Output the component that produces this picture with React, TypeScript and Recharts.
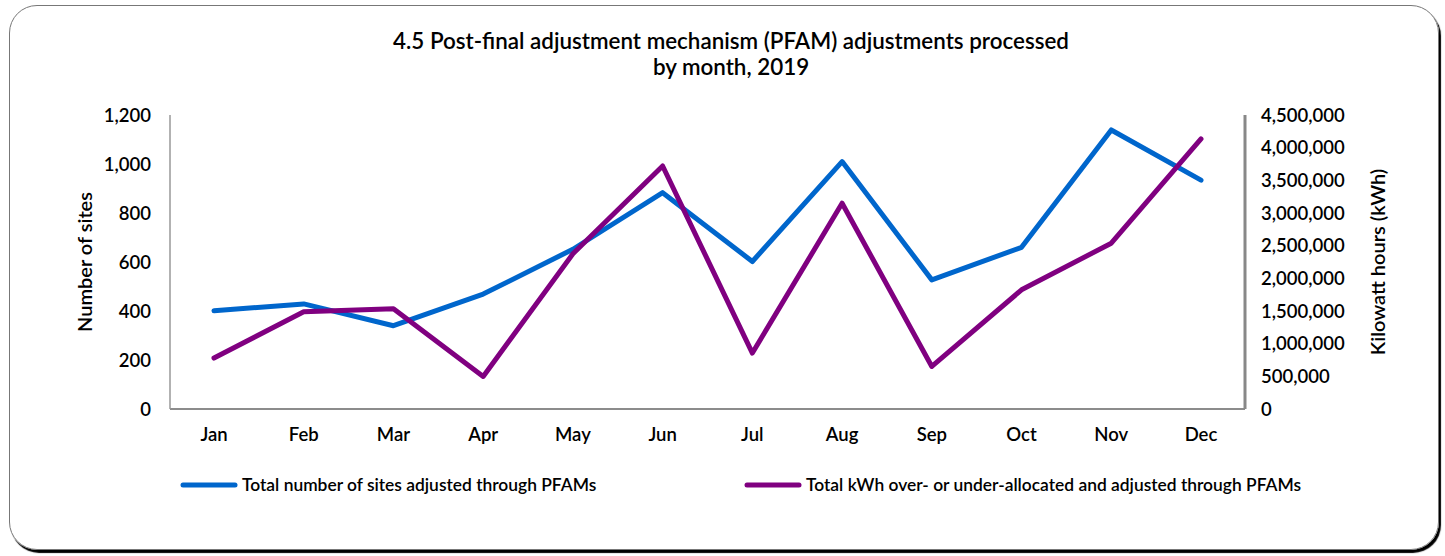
import { LineChart, Line, XAxis, YAxis, Legend } from 'recharts'

const months = ['Jan', 'Feb', 'Mar', 'Apr', 'May', 'Jun', 'Jul', 'Aug', 'Sep', 'Oct', 'Nov', 'Dec']
const sites = [401, 429, 340, 469, 652, 883, 602, 1010, 527, 660, 1139, 934]
const kwh = [780000, 1488000, 1534000, 498000, 2375000, 3720000, 856000, 3150000, 651000, 1824000, 2538000, 4133000]
const siteTicks = [0, 200, 400, 600, 800, 1000, 1200]
const kwhTicks = [0, 500000, 1000000, 1500000, 2000000, 2500000, 3000000, 3500000, 4000000, 4500000]

const SITES_LABEL = 'Total number of sites adjusted through PFAMs'
const KWH_LABEL = 'Total kWh over- or under-allocated and adjusted through PFAMs'

const BLUE = '#0066cc'
const PURPLE = '#800080'
const FONT = 'Lato, "Open Sans", sans-serif'

const data = months.map((m, i) => ({ month: m, sites: sites[i], kwh: kwh[i] }))

const fmt = (v: number) => v.toLocaleString('en-US')

const tickStyle = { fontSize: 18.5, fill: '#000', fontFamily: FONT, fontWeight: 600 }
const axisLabelStyle = { textAnchor: 'middle', fontSize: 20, fontFamily: FONT, fontWeight: 600, fill: '#000' }

function LegendRow() {
  const item = (color: string, text: string, left: number) => (
    <div style={{ position: 'absolute', left, top: 0, display: 'flex', alignItems: 'center' }}>
      <svg width={60} height={10}>
        <line x1={3} y1={5} x2={55} y2={5} stroke={color} strokeWidth={5} strokeLinecap="round" />
      </svg>
      <span style={{ fontSize: 17.4, fontFamily: FONT, fontWeight: 600, color: '#000', marginLeft: 2 }}>{text}</span>
    </div>
  )
  return (
    <div style={{ position: 'relative', width: 1445, height: 24 }}>
      {item(BLUE, SITES_LABEL, 180)}
      {item(PURPLE, KWH_LABEL, 744)}
    </div>
  )
}

export default function App() {
  return (
    <div style={{ position: 'absolute', left: 0, top: 0, width: 1445, height: 556, background: '#fff' }}>
      <div
        style={{
          position: 'absolute',
          left: 9,
          top: 5,
          width: 1428,
          height: 543,
          border: '1px solid #777',
          borderRadius: 28,
          boxShadow: '2px 3px 1px #000',
        }}
      />
      <div
        style={{
          position: 'absolute',
          left: 0,
          top: 28,
          width: 1462,
          textAlign: 'center',
          fontFamily: FONT,
          fontWeight: 600,
          fontSize: 22.4,
          lineHeight: '26px',
          color: '#000',
        }}
      >
        4.5 Post-final adjustment mechanism (PFAM) adjustments processed
        <br />
        by month, 2019
      </div>
      <div style={{ position: 'absolute', left: 0, top: 0 }}>
        <LineChart width={1445} height={556} data={data} margin={{ top: 115, right: 0, bottom: 117, left: 0 }}>
          <XAxis
            dataKey="month"
            height={30}
            padding={{ left: 44, right: 44 }}
            tick={tickStyle}
            tickLine={false}
            tickSize={0}
            tickMargin={19}
            axisLine={{ stroke: '#666', strokeWidth: 1.5 }}
          />
          <XAxis
            xAxisId="top"
            orientation="top"
            dataKey="month"
            height={0}
            padding={{ left: 44, right: 44 }}
            tick={false}
            tickLine={false}
            axisLine={{ stroke: '#999', strokeWidth: 1.5 }}
          />
          <YAxis
            yAxisId="left"
            width={170}
            domain={[0, 1200]}
            ticks={siteTicks}
            tickFormatter={fmt}
            tick={tickStyle}
            tickLine={false}
            tickSize={0}
            tickMargin={19}
            axisLine={{ stroke: '#999', strokeWidth: 1.5 }}
            label={{ value: 'Number of sites', angle: -90, position: 'insideLeft', offset: 85, style: axisLabelStyle }}
          />
          <YAxis
            yAxisId="right"
            orientation="right"
            width={200}
            domain={[0, 4500000]}
            ticks={kwhTicks}
            tickFormatter={fmt}
            tick={tickStyle}
            tickLine={false}
            tickSize={0}
            tickMargin={16}
            axisLine={{ stroke: '#888', strokeWidth: 3 }}
            label={{ value: 'Kilowatt hours (kWh)', angle: -90, position: 'insideRight', offset: 67, style: axisLabelStyle }}
          />
          <Legend
            layout="horizontal"
            align="center"
            verticalAlign="middle"
            wrapperStyle={{ top: 474, left: 0, width: 1445 }}
            content={() => <LegendRow />}
          />
          <Line
            yAxisId="left"
            dataKey="sites"
            name={SITES_LABEL}
            stroke={BLUE}
            strokeWidth={5}
            strokeLinecap="round"
            strokeLinejoin="round"
            dot={false}
            activeDot={false}
            isAnimationActive={false}
          />
          <Line
            yAxisId="right"
            dataKey="kwh"
            name={KWH_LABEL}
            stroke={PURPLE}
            strokeWidth={5}
            strokeLinecap="round"
            strokeLinejoin="round"
            dot={false}
            activeDot={false}
            isAnimationActive={false}
          />
        </LineChart>
      </div>
    </div>
  )
}
